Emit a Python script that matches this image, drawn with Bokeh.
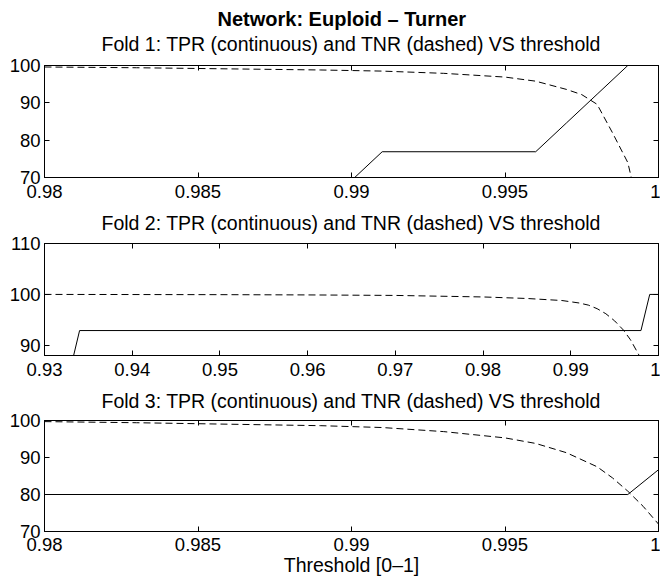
from bokeh.plotting import figure
from bokeh.layouts import column
from bokeh.models import Title, LinearAxis, FixedTicker, CustomJSTickFormatter, Range1d
from bokeh.embed import file_html
from bokeh.resources import INLINE

FONT = "Liberation Sans"

main_title = "Network: Euploid \u2013 Turner"
fold_titles = [
    "Fold 1: TPR (continuous) and TNR (dashed) VS threshold",
    "Fold 2: TPR (continuous) and TNR (dashed) VS threshold",
    "Fold 3: TPR (continuous) and TNR (dashed) VS threshold",
]
x_label = "Threshold [0\u20131]"

# Fold 1
f1_x_tpr = [0.980, 0.990, 0.991, 0.996, 0.997, 0.998, 0.999, 1.000]
f1_tpr = [69.2, 69.2, 76.9, 76.9, 84.6, 92.3, 100.0, 100.0]
f1_x_tnr = [0.980, 0.983, 0.986, 0.989, 0.991, 0.993, 0.995, 0.996, 0.997, 0.9975, 0.998, 0.9985, 0.999, 0.9992]
f1_tnr = [99.6, 99.4, 99.1, 98.8, 98.5, 97.9, 96.9, 95.8, 93.6, 92.2, 89.6, 82.0, 74.0, 67.0]
f1_xticks = [0.98, 0.985, 0.99, 0.995, 1.0]
f1_yticks = [70, 80, 90, 100]

# Fold 2
f2_x_tpr = [0.930, 0.933, 0.934, 0.998, 0.999, 1.000]
f2_tpr = [85.7, 85.7, 92.9, 92.9, 100.0, 100.0]
f2_x_tnr = [0.930, 0.950, 0.960, 0.970, 0.980, 0.985, 0.989, 0.991, 0.992, 0.993, 0.994, 0.995, 0.996, 0.9968, 0.9978, 0.9985]
f2_tnr = [100.0, 99.95, 99.9, 99.8, 99.5, 99.2, 98.8, 98.3, 97.9, 97.2, 96.2, 94.8, 93.0, 91.1, 88.0, 84.0]
f2_xticks = [0.93, 0.94, 0.95, 0.96, 0.97, 0.98, 0.99, 1.0]
f2_yticks = [90, 100, 110]

# Fold 3
f3_x_tpr = [0.980, 0.999, 1.000]
f3_tpr = [80.0, 80.0, 86.7]
f3_x_tnr = [0.980, 0.983, 0.986, 0.989, 0.991, 0.993, 0.995, 0.996, 0.997, 0.998, 0.9985, 0.999, 0.9995, 1.000]
f3_tnr = [99.7, 99.4, 99.0, 98.6, 98.1, 97.0, 95.3, 93.8, 91.3, 87.5, 84.5, 80.9, 76.8, 72.0]
f3_xticks = [0.98, 0.985, 0.99, 0.995, 1.0]
f3_yticks = [70, 80, 90, 100]

fmt_code = "var s = tick.toFixed(3).replace(/0+$/, ''); if (s.endsWith('.')) { s = s.slice(0, -1); } return s;"


def style_axis(ax, labels=True, standoff=0):
    ax.major_tick_in = 5
    ax.major_tick_out = 0
    ax.minor_tick_in = 0
    ax.minor_tick_out = 0
    ax.axis_line_color = "black"
    ax.axis_line_width = 1
    ax.major_tick_line_color = "black"
    ax.major_tick_line_width = 1
    if labels:
        ax.major_label_text_font = FONT
        ax.major_label_text_font_size = "18.5px"
        ax.major_label_text_color = "black"
    else:
        ax.formatter = CustomJSTickFormatter(code="return '';")
        ax.major_label_text_font_size = "1px"
    ax.major_label_standoff = standoff


def spacer_axis(ticks, gap):
    # invisible axis that only reserves vertical room between the frame and the title
    sp = LinearAxis(ticker=FixedTicker(ticks=ticks))
    sp.formatter = CustomJSTickFormatter(code="return '';")
    sp.major_label_text_font_size = "1px"
    sp.major_label_standoff = 0
    sp.major_tick_in = 0
    sp.major_tick_out = gap
    sp.minor_tick_in = 0
    sp.minor_tick_out = 0
    sp.major_tick_line_alpha = 0
    sp.axis_line_color = None
    return sp


def make(xr, yr, xticks, yticks, xt, yt, xd, yd, title, h, top, bottom, top_gap,
         xlab_standoff=7, extra_title=None, xlabel=None):
    p = figure(width=660, height=h, x_range=Range1d(*xr), y_range=Range1d(*yr),
               output_backend="svg", toolbar_location=None,
               min_border_left=44, min_border_right=2,
               min_border_top=top, min_border_bottom=bottom)
    p.title = None
    p.grid.visible = False
    p.outline_line_color = "black"
    p.outline_line_width = 1
    p.background_fill_color = "white"
    p.border_fill_color = "white"

    p.xaxis.ticker = FixedTicker(ticks=xticks)
    p.xaxis.formatter = CustomJSTickFormatter(code=fmt_code)
    p.yaxis.ticker = FixedTicker(ticks=yticks)
    for ax in p.xaxis:
        style_axis(ax, standoff=xlab_standoff)
    for ax in p.yaxis:
        style_axis(ax, standoff=4)
    if xlabel:
        p.xaxis.axis_label = xlabel
        p.xaxis.axis_label_text_font = FONT
        p.xaxis.axis_label_text_font_size = "19.5px"
        p.xaxis.axis_label_text_font_style = "normal"
        p.xaxis.axis_label_text_color = "black"
        p.xaxis.axis_label_standoff = 0

    ra = LinearAxis(ticker=FixedTicker(ticks=yticks))
    style_axis(ra, labels=False, standoff=0)
    p.add_layout(ra, "right")
    ta = LinearAxis(ticker=FixedTicker(ticks=xticks))
    style_axis(ta, labels=False, standoff=0)
    p.add_layout(ta, "above")
    p.add_layout(spacer_axis(xticks, top_gap), "above")

    p.add_layout(Title(text=title, align="left", offset=57, text_font=FONT, text_font_size="19.5px",
                       text_font_style="normal", text_color="black", standoff=0), "above")
    if extra_title:
        p.add_layout(Title(text=extra_title, align="left", offset=173, text_font=FONT,
                           text_font_size="20px", text_font_style="bold", text_color="black",
                           standoff=1), "above")

    p.line(xt, yt, line_color="black", line_width=1)
    p.line(xd, yd, line_color="black", line_width=1, line_dash="7 4")
    return p


p1 = make((0.98, 1.0), (70, 100), f1_xticks, f1_yticks, f1_x_tpr, f1_tpr, f1_x_tnr, f1_tnr,
          fold_titles[0], 206, 65, 29, 11, extra_title=main_title)
p2 = make((0.93, 1.0), (88, 110), f2_xticks, f2_yticks, f2_x_tpr, f2_tpr, f2_x_tnr, f2_tnr,
          fold_titles[1], 177, 37, 28, 10)
p3 = make((0.98, 1.0), (70, 100), f3_xticks, f3_yticks, f3_x_tpr, f3_tpr, f3_x_tnr, f3_tnr,
          fold_titles[2], 198, 37, 50, 9, xlab_standoff=6, xlabel=x_label)

layout = column(p1, p2, p3, spacing=0)
open("out.html", "w").write(file_html(layout, INLINE))
